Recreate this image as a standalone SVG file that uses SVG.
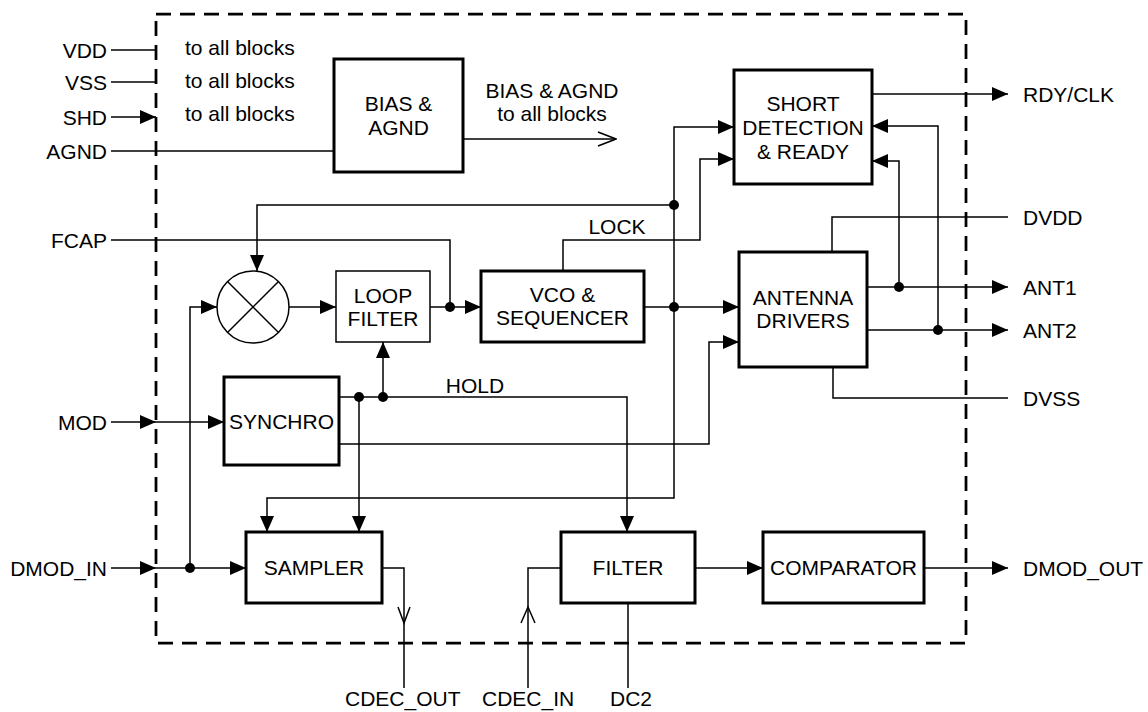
<svg xmlns="http://www.w3.org/2000/svg" width="1148" height="712" viewBox="0 0 1148 712">
<defs>
<marker id="ah" markerUnits="userSpaceOnUse" viewBox="0 0 16 14" refX="16" refY="7" markerWidth="16" markerHeight="14" orient="auto"><path d="M0,0 L16,7 L0,14 z" fill="#000"/></marker>
<marker id="oh" markerUnits="userSpaceOnUse" viewBox="0 0 20 16" refX="19" refY="8" markerWidth="20" markerHeight="16" orient="auto"><path d="M1,1 L19,8 L1,15" fill="none" stroke="#000" stroke-width="1.5"/></marker>
</defs>
<style>
text{font-family:"Liberation Sans",Arial,Helvetica,sans-serif;font-size:21px;fill:#000}
.c{text-anchor:middle}
.e{text-anchor:end}
.w{fill:none;stroke:#000;stroke-width:1.5}
.b{fill:#fff;stroke:#000;stroke-width:3}
.bt{fill:#fff;stroke:#000;stroke-width:1.5}
.a{marker-end:url(#ah)}
.o{marker-end:url(#oh)}
.d{fill:#000}
</style>
<rect width="1148" height="712" fill="#fff"/>
<rect id="boundary" x="156" y="14" width="810" height="629" fill="none" stroke="#000" stroke-width="2.75" stroke-dasharray="15 9"/>

<g id="connectors">
<path class="w" d="M111,50 H156"/>
<path class="w" d="M111,82 H156"/>
<path class="w a" d="M111,117 H156"/>
<path class="w" d="M111,151 H334"/>
<path class="w o" d="M463,139 H616"/>
<path class="w" d="M111,240 H450 V307"/>
<path class="w a" d="M674,205 H257 V271"/>
<path class="w a" d="M674,205 V127 H734"/>
<path class="w a" d="M674,205 V498 H267 V532"/>
<path class="w a" d="M563,271 V240 H700 V159 H734"/>
<path class="w a" d="M872,94 H1008"/>
<path class="w a" d="M899,287 V161 H872"/>
<path class="w a" d="M938,330 V126 H872"/>
<path class="w" d="M832,252 V217 H1008"/>
<path class="w" d="M833,367 V398 H1008"/>
<path class="w a" d="M867,287 H1008"/>
<path class="w a" d="M867,330 H1008"/>
<path class="w a" d="M289,307 H336"/>
<path class="w a" d="M430,307 H481"/>
<path class="w a" d="M644,307 H739"/>
<path class="w a" d="M339,444 H709 V342 H739"/>
<path class="w a" d="M111,422 H156"/>
<path class="w a" d="M156,422 H224"/>
<path class="w a" d="M111,568 H156"/>
<path class="w a" d="M156,568 H246"/>
<path class="w a" d="M190,568 V307 H217"/>
<path class="w a" d="M339,397 H627 V532"/>
<path class="w a" d="M383,397 V342"/>
<path class="w a" d="M359,397 V532"/>
<path class="w" d="M382,568 H404 V688"/>
<path class="w" d="M398,607 L404,623 L410,607"/>
<path class="w" d="M528,688 V568 H561"/>
<path class="w" d="M521,623 L528,607 L535,623"/>
<path class="w" d="M628,603 V688"/>
<path class="w a" d="M695,568 H763"/>
<path class="w a" d="M924,568 H1008"/>
<circle class="d" cx="674" cy="205" r="5"/>
<circle class="d" cx="674" cy="307" r="5"/>
<circle class="d" cx="450" cy="307" r="5"/>
<circle class="d" cx="899" cy="287" r="5"/>
<circle class="d" cx="938" cy="330" r="5"/>
<circle class="d" cx="359" cy="397" r="5"/>
<circle class="d" cx="383" cy="397" r="5"/>
<circle class="d" cx="190" cy="568" r="5"/>
</g>

<g id="pins">
<text class="e" x="107" y="58">VDD</text>
<text class="e" x="107" y="90">VSS</text>
<text class="e" x="107" y="125">SHD</text>
<text class="e" x="107" y="159">AGND</text>
<text class="e" x="107" y="248">FCAP</text>
<text class="e" x="107" y="430">MOD</text>
<text class="e" x="107" y="576">DMOD_IN</text>
<text x="1023" y="102">RDY/CLK</text>
<text x="1023" y="225">DVDD</text>
<text x="1023" y="295">ANT1</text>
<text x="1023" y="338">ANT2</text>
<text x="1023" y="406">DVSS</text>
<text x="1023" y="576">DMOD_OUT</text>
<text x="345" y="706">CDEC_OUT</text>
<text x="482" y="706">CDEC_IN</text>
<text x="610" y="706">DC2</text>
</g>

<g id="notes">
<text x="185" y="55">to all blocks</text>
<text x="185" y="88">to all blocks</text>
<text x="185" y="121">to all blocks</text>
<text class="c" x="552" y="98">BIAS &amp; AGND</text>
<text class="c" x="552" y="121">to all blocks</text>
<text class="c" x="617" y="234">LOCK</text>
<text class="c" x="475" y="393">HOLD</text>
</g>

<g id="bias">
<rect class="b" x="334" y="59" width="129" height="113"/>
<text class="c" x="398.5" y="111">BIAS &amp;</text>
<text class="c" x="398.5" y="135">AGND</text>
</g>
<g id="short">
<rect class="b" x="734" y="70" width="138" height="114"/>
<text class="c" x="803" y="111">SHORT</text>
<text class="c" x="803" y="135">DETECTION</text>
<text class="c" x="803" y="159">&amp; READY</text>
</g>
<g id="mixer">
<circle cx="253" cy="307" r="36" fill="#fff" stroke="#000" stroke-width="1.5"/>
<path class="w" d="M227.5,281.5 L278.5,332.5 M278.5,281.5 L227.5,332.5"/>
</g>
<g id="loopfilter">
<rect class="bt" x="336" y="271" width="94" height="71"/>
<text class="c" x="383" y="303">LOOP</text>
<text class="c" x="383" y="326">FILTER</text>
</g>
<g id="vco">
<rect class="b" x="481" y="271" width="163" height="71"/>
<text class="c" x="562.5" y="302">VCO &amp;</text>
<text class="c" x="562.5" y="325">SEQUENCER</text>
</g>
<g id="antenna">
<rect class="b" x="739" y="252" width="128" height="115"/>
<text class="c" x="803" y="305">ANTENNA</text>
<text class="c" x="803" y="328">DRIVERS</text>
</g>
<g id="synchro">
<rect class="b" x="224" y="377" width="115" height="88"/>
<text class="c" x="281.5" y="429">SYNCHRO</text>
</g>
<g id="sampler">
<rect class="b" x="246" y="532" width="136" height="71"/>
<text class="c" x="314" y="575">SAMPLER</text>
</g>
<g id="filter">
<rect class="b" x="561" y="532" width="134" height="71"/>
<text class="c" x="628" y="575">FILTER</text>
</g>
<g id="comparator">
<rect class="b" x="763" y="532" width="161" height="71" stroke-width="2.5"/>
<text class="c" x="843.5" y="575">COMPARATOR</text>
</g>
</svg>
